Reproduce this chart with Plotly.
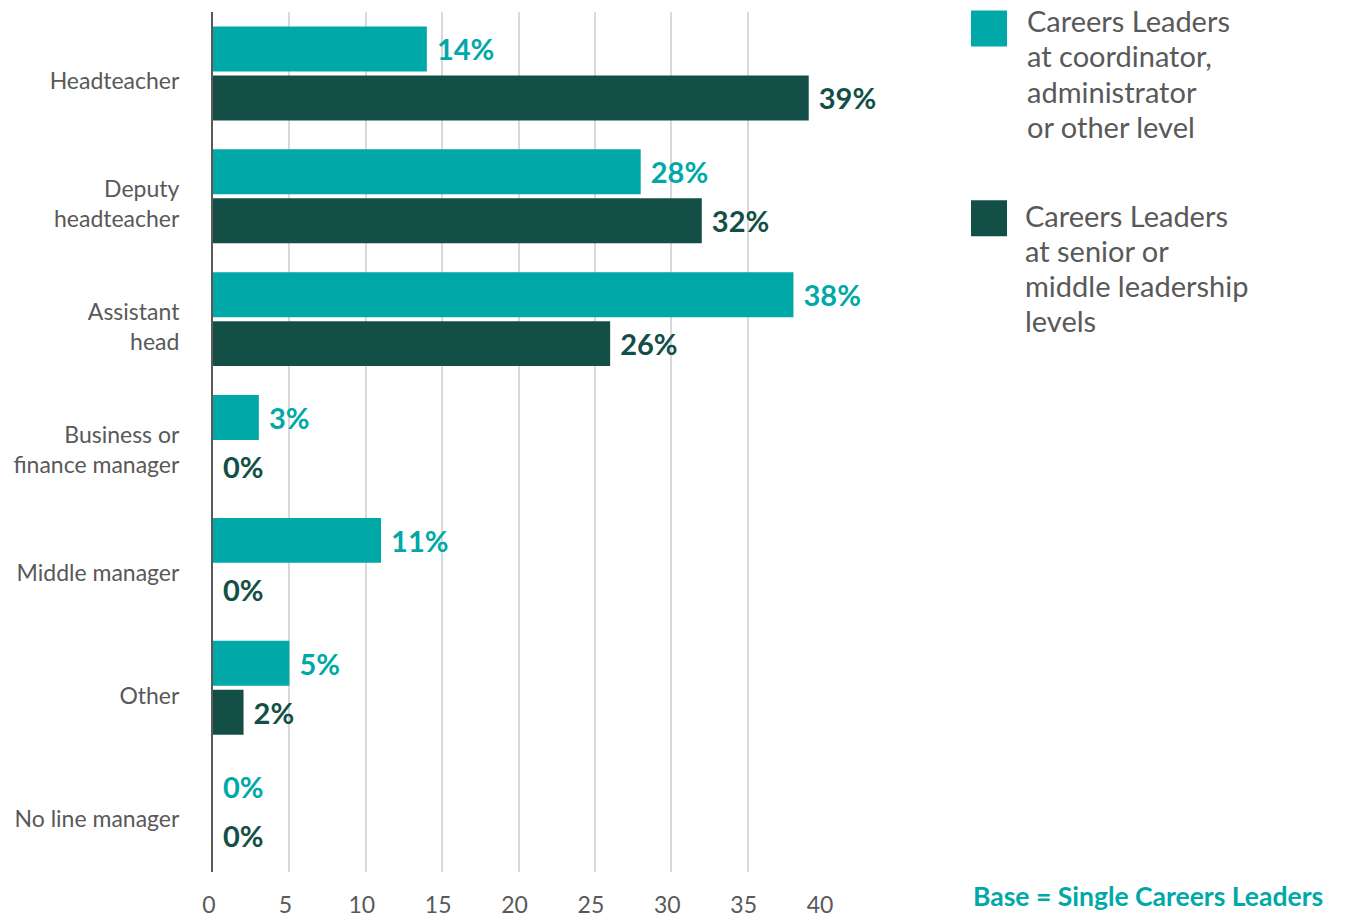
import plotly.graph_objects as go

categories = ["Headteacher", "Deputy<br>headteacher", "Assistant<br>head", "Business or<br>finance manager",
              "Middle manager", "Other", "No line manager"]
coordinator = [14, 28, 38, 3, 11, 5, 0]
senior = [39, 32, 26, 0, 0, 2, 0]
series_names = ["Careers Leaders at coordinator, administrator or other level",
                "Careers Leaders at senior or middle leadership levels"]
legend_lines = [["Careers Leaders", "at coordinator,", "administrator", "or other level"],
                ["Careers Leaders", "at senior or", "middle leadership", "levels"]]
x_ticks = [0, 5, 10, 15, 20, 25, 30, 35, 40]

TEAL = "#00A9A7"
DARK = "#134F46"
GREY = "#595959"
FONT = "Lato"

W, H = 1345, 917
ML, MR, MT, MB = 213, 521, 11.5, 44.5
PW, PH = W - ML - MR, H - MT - MB


def px_x(p):
    return (p - ML) / PW


def px_y(p):
    return (H - MB - p) / PH


fig = go.Figure()
for name, vals, col in [(series_names[0], coordinator, TEAL), (series_names[1], senior, DARK)]:
    fig.add_trace(go.Bar(
        y=categories, x=vals, orientation="h", name=name,
        marker=dict(color=col, line=dict(width=0)),
        text=[f"\u00a0{v}%" for v in vals], textposition="outside",
        textfont=dict(family=FONT, size=29, color=col, weight="bold"),
        cliponaxis=False, showlegend=False,
    ))

fig.update_layout(
    width=W, height=H, margin=dict(l=ML, r=MR, t=MT, b=MB, autoexpand=False),
    paper_bgcolor="white", plot_bgcolor="white",
    barmode="group", bargap=0.203, bargroupgap=0.082,
    font=dict(family=FONT, color=GREY),
)
fig.update_xaxes(range=[0, 40], tickvals=x_ticks, showgrid=True, gridcolor="#D9D9D9", gridwidth=1.5,
                 zeroline=False, showline=False, ticks="", tickfont=dict(size=23, color=GREY, family=FONT),
                 ticklabelstandoff=17, ticklabelshift=-4, automargin=False)
fig.update_yaxes(autorange="reversed", showline=True, linecolor=GREY, linewidth=2, ticks="",
                 tickfont=dict(size=23, color=GREY, family=FONT), ticklabelstandoff=27, showgrid=False,
                 ticklabelshift=-8, automargin=False)

# custom legend
legend_geo = [(TEAL, 10, 1025, [20, 55, 91, 126]), (DARK, 200, 1023, [215, 250, 285, 320])]
for (col, top, tx, ys), lines in zip(legend_geo, legend_lines):
    fig.add_shape(type="rect", xref="paper", yref="paper",
                  x0=px_x(971), x1=px_x(1007), y0=px_y(top + 36), y1=px_y(top),
                  fillcolor=col, line=dict(width=0))
    for line, yc in zip(lines, ys):
        fig.add_annotation(xref="paper", yref="paper", x=px_x(tx), y=px_y(yc), xanchor="left",
                           yanchor="middle", text=line, showarrow=False, align="left",
                           font=dict(family=FONT, size=29, color=GREY))

fig.add_annotation(xref="paper", yref="paper", x=px_x(1325), y=px_y(897), xanchor="right", yanchor="middle",
                   text="<b>Base = Single Careers Leaders</b>", showarrow=False,
                   font=dict(family=FONT, size=26.5, color=TEAL))

fig.write_html("out.html", config={"displayModeBar": False},
               post_script="document.body.style.margin='0';")
